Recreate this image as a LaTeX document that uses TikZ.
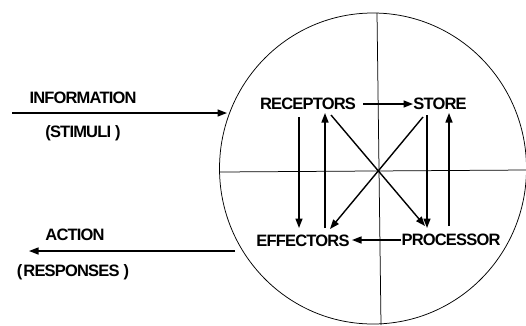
\documentclass[tikz,border=0pt]{standalone}
\usepackage{fontspec}
\setmainfont{Liberation Sans}[LetterSpace=-5]
\usetikzlibrary{arrows.meta}
\begin{document}
\begin{tikzpicture}[x=1pt,y=-1pt,
  lbl/.style={font=\fontsize{16.5}{18}\selectfont\bfseries, inner sep=0pt},
  flow/.style={line width=1.4pt, -{Triangle[length=9.5pt,width=7pt]}},
  thin/.style={line width=0.75pt}]
\useasboundingbox (0,0) rectangle (526,325);

% outer boundary and quadrant lines
\draw[thin] (373,168.5) ellipse [x radius=153.5, y radius=155.5];
\draw[thin] (377,13) -- (381,325);
\draw[thin] (219.5,172) -- (526,170);

% labels inside the circle
\node[lbl] (rec) at (308,104) {RECEPTORS};
\node[lbl] (sto) at (440,104) {STORE};
\node[lbl] (eff) at (303,241) {EFFECTORS};
\node[lbl] (pro) at (451,240) {PROCESSOR};

% outside labels
\node[lbl] (inf) at (83,98) {INFORMATION};
\node[lbl] (sti) at (83,133) {(STIMULI\hspace{4pt})};
\node[lbl] (act) at (75,235) {ACTION};
\node[lbl] (res) at (73,272) {(\hspace{1pt}RESPONSES\hspace{4pt})};

% connector end points
\coordinate (inA) at (12,113);
\coordinate (inB) at (227,113);
\coordinate (outA) at (235,251);
\coordinate (outB) at (29,251);

\coordinate (rs1) at (363,104);
\coordinate (rs2) at (413,104);
\coordinate (pe1) at (401,240);
\coordinate (pe2) at (352,240);

\coordinate (re1) at (299,117);
\coordinate (re2) at (299,228);
\coordinate (er1) at (325,228);
\coordinate (er2) at (325,113);
\coordinate (rp1) at (331,115);
\coordinate (rp2) at (425,226);
\coordinate (se1) at (423,117);
\coordinate (se2) at (330,229);
\coordinate (sp1) at (427,115);
\coordinate (sp2) at (427,228);
\coordinate (ps1) at (449,226);
\coordinate (ps2) at (449,113);

% arrows
\draw[flow] (inA) -- (inB);
\draw[flow] (outA) -- (outB);
\draw[flow] (rs1) -- (rs2);
\draw[flow] (pe1) -- (pe2);
\draw[flow] (re1) -- (re2);
\draw[flow] (er1) -- (er2);
\draw[flow] (rp1) -- (rp2);
\draw[flow] (se1) -- (se2);
\draw[flow] (sp1) -- (sp2);
\draw[flow] (ps1) -- (ps2);
\end{tikzpicture}
\end{document}
